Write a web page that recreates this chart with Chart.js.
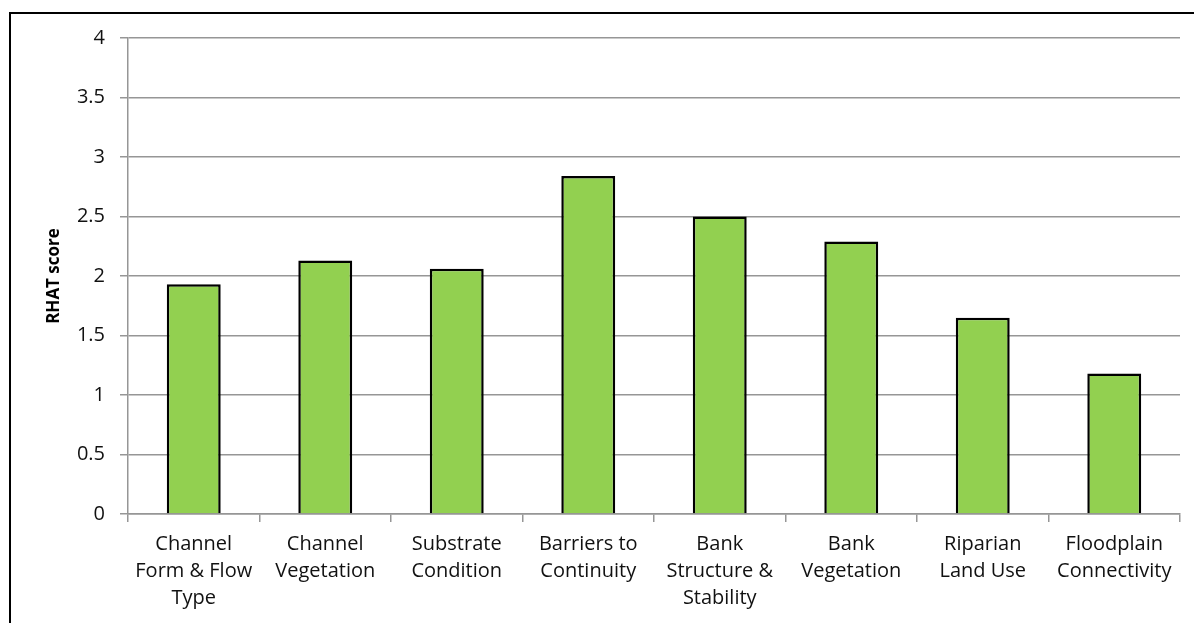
<!DOCTYPE html>
<html>
<head>
<meta charset="utf-8">
<script src="https://cdn.jsdelivr.net/npm/chart.js@4"></script>
<style>
  html, body { margin: 0; padding: 0; background: #fff; }
  #wrap { width: 1194px; height: 623px; position: relative; }
</style>
</head>
<body>
<div id="wrap"><canvas id="chart" width="1194" height="623"></canvas></div>
<script>
// categories (multi-line labels as in the original)
const categories = [
  ['Channel', 'Form & Flow', 'Type'],
  ['Channel', 'Vegetation'],
  ['Substrate', 'Condition'],
  ['Barriers to', 'Continuity'],
  ['Bank', 'Structure &', 'Stability'],
  ['Bank', 'Vegetation'],
  ['Riparian', 'Land Use'],
  ['Floodplain', 'Connectivity']
];
const rhatScores = [1.93, 2.13, 2.06, 2.84, 2.50, 2.29, 1.65, 1.18];
const yTicks = [0, 0.5, 1, 1.5, 2, 2.5, 3, 3.5, 4];

const gridGray = '#969696';
const textColor = '#111';
const tickFont = { family: 'Open Sans', size: 20 };

// outer frame like the pasted Excel chart
const framePlugin = {
  id: 'frame',
  afterDraw(chart) {
    const ctx = chart.ctx;
    ctx.save();
    ctx.strokeStyle = '#000';
    ctx.lineWidth = 2;
    ctx.strokeRect(10, 13, 1200, 630);
    ctx.restore();
  }
};

new Chart(document.getElementById('chart'), {
  type: 'bar',
  data: {
    labels: categories,
    datasets: [{
      label: 'RHAT score',
      data: rhatScores,
      backgroundColor: '#92D050',
      borderColor: '#000',
      borderWidth: 2.5,
      barPercentage: 0.41,
      categoryPercentage: 1
    }]
  },
  options: {
    responsive: false,
    animation: false,
    layout: { padding: { left: 0, right: 14, top: 38, bottom: 0 } },
    plugins: { legend: { display: false }, tooltip: { enabled: false } },
    scales: {
      x: {
        grid: { drawOnChartArea: false, color: gridGray, lineWidth: 1.5, tickLength: 8, offset: true },
        border: { color: gridGray, width: 1.5 },
        ticks: { color: textColor, font: { ...tickFont, lineHeight: 1.35 }, maxRotation: 0, autoSkip: false, padding: 9 },
        afterFit(scale) { scale.height = 109; }
      },
      y: {
        min: 0,
        max: 4,
        afterBuildTicks(scale) { scale.ticks = yTicks.map(v => ({ value: v })); },
        grid: { color: gridGray, lineWidth: 1.5, tickLength: 8 },
        border: { color: gridGray, width: 1.5 },
        ticks: { color: textColor, font: tickFont, padding: 15, callback: v => String(v) },
        title: { display: true, text: 'RHAT score', color: '#000', font: { family: 'Open Sans', size: 17, weight: 'bold' }, padding: { top: 44, bottom: 4 } },
        afterFit(scale) { scale.width = 128; }
      }
    }
  },
  plugins: [framePlugin]
});
</script>
</body>
</html>
